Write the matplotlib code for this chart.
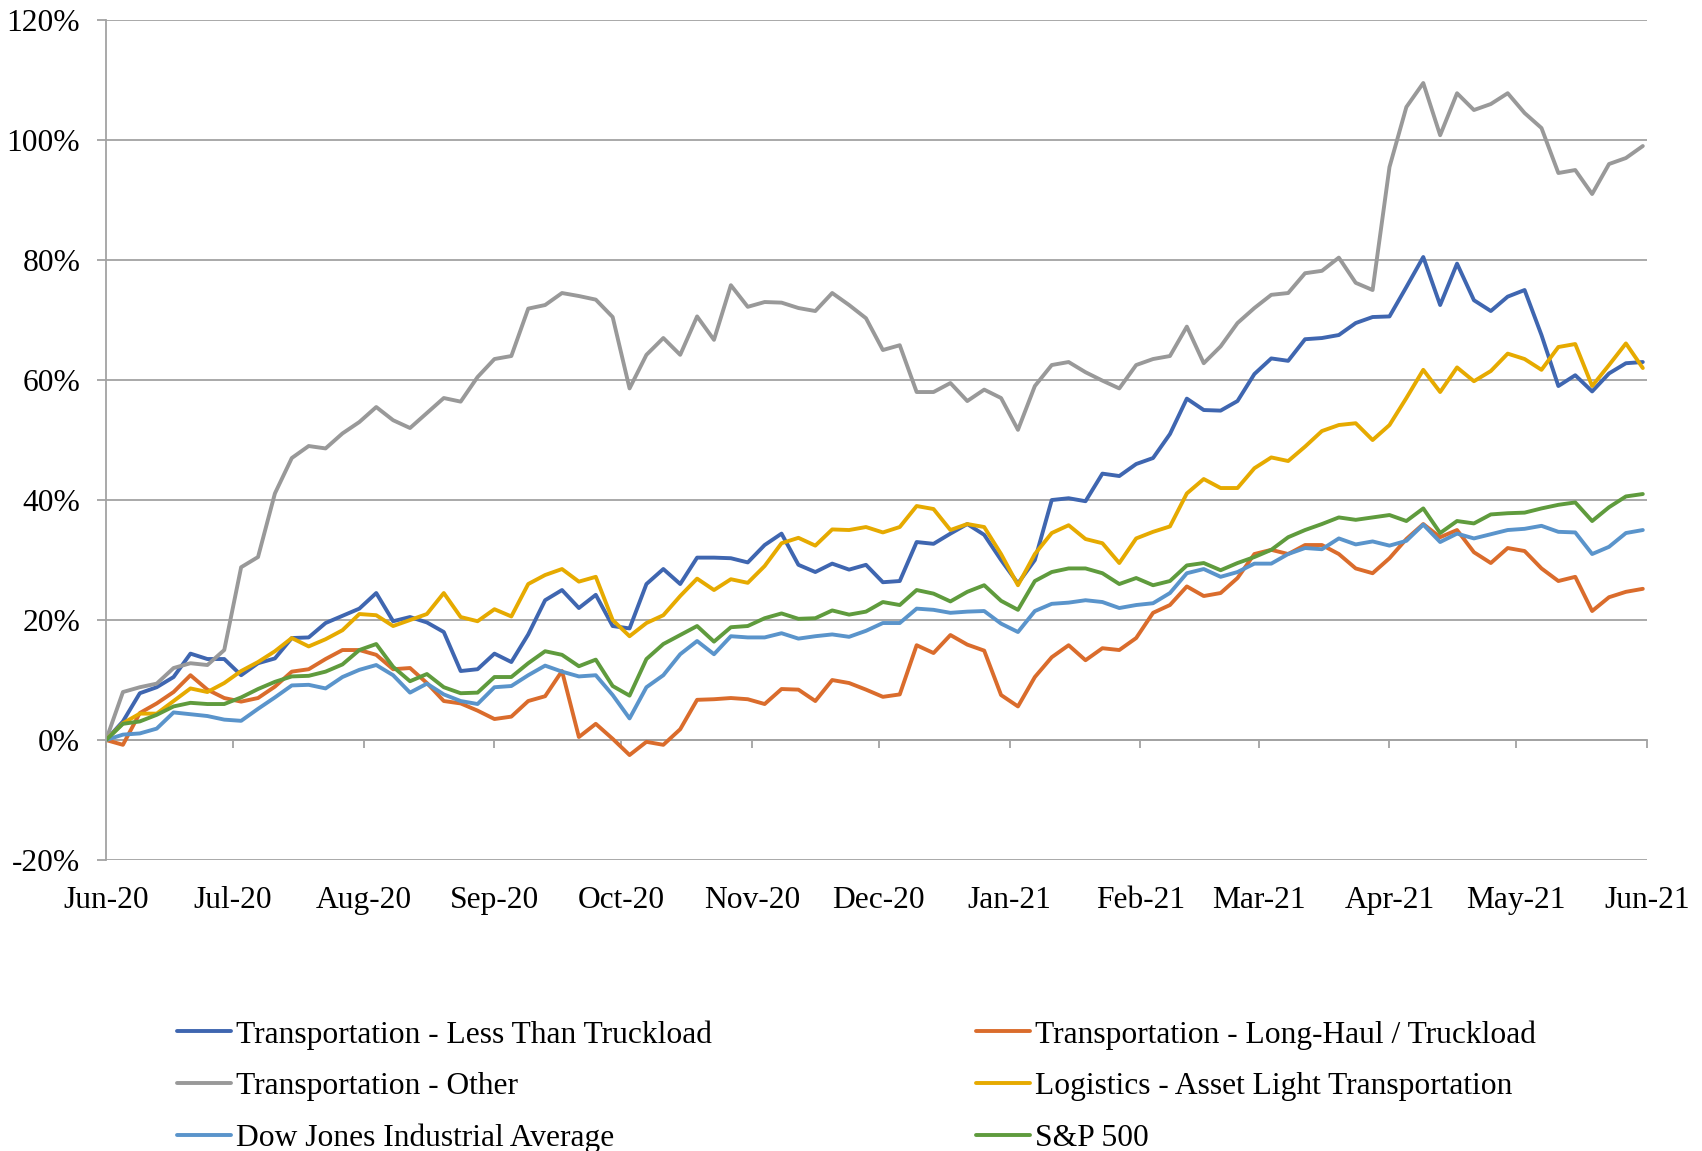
import pandas as pd
import matplotlib
matplotlib.use('Agg')
import matplotlib.pyplot as plt
import matplotlib.dates as mdates
from matplotlib.ticker import FuncFormatter

plt.rcParams['font.family'] = ['Liberation Serif', 'DejaVu Serif']

# sampled every 4 calendar days from 1 Jun 2020, cumulative return in %
dates = pd.date_range('2020-06-01', periods=92, freq='4D')

ltl = [0, 3.1, 7.8, 8.8, 10.5, 14.4, 13.5, 13.5, 10.8, 12.8, 13.6, 17.0, 17.1, 19.5, 20.7, 21.9,
       24.5, 19.8, 20.5, 19.6, 18.0, 11.5, 11.8, 14.4, 13.0, 17.6, 23.3, 25.0, 22.0, 24.2, 19.0, 18.6,
       26.0, 28.5, 26.0, 30.4, 30.4, 30.3, 29.6, 32.5, 34.4, 29.2, 28.0, 29.4, 28.4, 29.2, 26.3, 26.5,
       33.0, 32.7, 34.4, 36.0, 34.2, 30.0, 26.1, 30.0, 40.0, 40.3, 39.8, 44.4, 44.0, 46.0, 47.0, 51.0,
       56.9, 55.0, 54.9, 56.5, 61.0, 63.6, 63.2, 66.8, 67.0, 67.5, 69.5, 70.5, 70.6, 75.5, 80.5, 72.5,
       79.4, 73.3, 71.5, 73.9, 75.0, 67.5, 59.0, 60.8, 58.1, 61.1, 62.8, 63.0]

long_haul = [0, -0.8, 4.5, 6.1, 8.0, 10.8, 8.4, 7.0, 6.4, 7.0, 8.9, 11.4, 11.8, 13.5, 15.0, 15.0,
             14.2, 11.8, 12.0, 9.5, 6.5, 6.1, 4.9, 3.5, 3.9, 6.5, 7.3, 11.5, 0.5, 2.7, 0.2, -2.5,
             -0.3, -0.8, 1.8, 6.7, 6.8, 7.0, 6.8, 6.0, 8.5, 8.4, 6.5, 10.0, 9.5, 8.4, 7.2, 7.6,
             15.8, 14.5, 17.5, 15.9, 14.9, 7.5, 5.6, 10.5, 13.8, 15.8, 13.3, 15.3, 15.0, 17.0, 21.2, 22.5,
             25.6, 24.0, 24.5, 27.0, 31.0, 31.7, 31.0, 32.5, 32.5, 31.0, 28.6, 27.8, 30.3, 33.5, 36.0, 33.8,
             35.0, 31.3, 29.5, 32.0, 31.5, 28.6, 26.5, 27.2, 21.5, 23.8, 24.7, 25.2]

other = [0, 8.0, 8.8, 9.4, 12.0, 12.8, 12.5, 15.0, 28.8, 30.5, 41.1, 47.0, 49.0, 48.6, 51.1, 53.0,
         55.5, 53.3, 52.0, 54.5, 57.0, 56.4, 60.5, 63.5, 64.0, 71.9, 72.5, 74.5, 74.0, 73.4, 70.5, 58.6,
         64.2, 67.0, 64.2, 70.6, 66.7, 75.8, 72.2, 73.0, 72.9, 72.0, 71.5, 74.5, 72.5, 70.3, 65.0, 65.8,
         58.0, 58.0, 59.5, 56.5, 58.4, 57.0, 51.7, 59.0, 62.5, 63.0, 61.3, 59.9, 58.6, 62.5, 63.5, 64.0,
         68.9, 62.8, 65.6, 69.5, 72.0, 74.2, 74.5, 77.8, 78.2, 80.4, 76.2, 75.0, 95.5, 105.5, 109.5, 100.8,
         107.8, 105.0, 106.0, 107.8, 104.5, 102.0, 94.5, 95.0, 91.0, 96.0, 97.0, 99.0]

logistics = [0, 2.8, 4.4, 4.4, 6.5, 8.6, 8.0, 9.5, 11.5, 13.0, 14.8, 17.0, 15.6, 16.8, 18.3, 21.0,
             20.8, 19.0, 20.0, 21.0, 24.5, 20.5, 19.8, 21.8, 20.6, 26.0, 27.5, 28.5, 26.4, 27.2, 20.0, 17.3,
             19.5, 20.8, 24.0, 26.9, 25.0, 26.8, 26.2, 29.0, 32.8, 33.7, 32.4, 35.1, 35.0, 35.5, 34.6, 35.5,
             39.0, 38.5, 35.0, 36.0, 35.5, 31.0, 25.8, 31.0, 34.5, 35.8, 33.5, 32.8, 29.5, 33.6, 34.7, 35.6,
             41.1, 43.5, 42.0, 42.0, 45.3, 47.1, 46.5, 48.9, 51.5, 52.5, 52.8, 50.0, 52.5, 57.0, 61.7, 58.0,
             62.1, 59.8, 61.5, 64.4, 63.5, 61.7, 65.5, 66.0, 59.0, 62.5, 66.1, 62.0]

dow = [0, 0.9, 1.1, 1.9, 4.6, 4.3, 4.0, 3.4, 3.2, 5.2, 7.1, 9.1, 9.2, 8.6, 10.5, 11.7,
       12.5, 10.8, 7.9, 9.4, 7.6, 6.5, 6.0, 8.8, 9.0, 10.8, 12.4, 11.4, 10.6, 10.8, 7.5, 3.6,
       8.8, 10.8, 14.3, 16.5, 14.3, 17.3, 17.1, 17.1, 17.8, 16.9, 17.3, 17.6, 17.2, 18.2, 19.5, 19.5,
       21.9, 21.7, 21.2, 21.4, 21.5, 19.4, 18.0, 21.5, 22.7, 22.9, 23.3, 23.0, 22.0, 22.5, 22.8, 24.5,
       27.8, 28.5, 27.2, 28.0, 29.4, 29.4, 31.0, 32.0, 31.8, 33.6, 32.6, 33.1, 32.4, 33.2, 35.9, 33.0,
       34.4, 33.6, 34.3, 35.0, 35.2, 35.7, 34.7, 34.6, 31.0, 32.2, 34.5, 35.0]

sp500 = [0, 2.7, 3.1, 4.2, 5.6, 6.2, 6.0, 6.0, 7.1, 8.5, 9.7, 10.6, 10.7, 11.4, 12.6, 15.0,
         16.0, 12.2, 9.8, 11.0, 8.8, 7.8, 7.9, 10.5, 10.5, 12.8, 14.8, 14.2, 12.3, 13.4, 9.0, 7.4,
         13.5, 16.0, 17.5, 19.0, 16.4, 18.8, 19.0, 20.3, 21.1, 20.2, 20.3, 21.6, 20.9, 21.4, 23.0, 22.5,
         25.0, 24.4, 23.1, 24.7, 25.8, 23.2, 21.7, 26.5, 28.0, 28.6, 28.6, 27.8, 26.0, 27.0, 25.8, 26.5,
         29.1, 29.5, 28.3, 29.5, 30.5, 31.7, 33.8, 35.0, 36.0, 37.1, 36.7, 37.1, 37.5, 36.5, 38.6, 34.5,
         36.5, 36.1, 37.6, 37.8, 37.9, 38.6, 39.2, 39.6, 36.5, 38.8, 40.6, 41.0]

series = [
    ('Transportation - Less Than Truckload', ltl, '#3F66B0'),
    ('Transportation - Long-Haul / Truckload', long_haul, '#DA6C2C'),
    ('Transportation - Other', other, '#999999'),
    ('Logistics - Asset Light Transportation', logistics, '#E6AA00'),
    ('Dow Jones Industrial Average', dow, '#5A94CB'),
    ('S&P 500', sp500, '#5F9B3D'),
]

grid_c = '#a3a3a3'

fig = plt.figure(figsize=(17.02, 11.51), dpi=100, facecolor='white')
ax = fig.add_axes([0.0623, 0.2528, 0.9054, 0.7298])

lines = {}
for name, vals, col in series:
    ln, = ax.plot(dates, vals, color=col, lw=2.8, label=name,
                  solid_joinstyle='round', solid_capstyle='round')
    lines[name] = ln

ax.set_ylim(-20, 120)
ax.set_yticks(range(-20, 121, 20))
ax.yaxis.set_major_formatter(FuncFormatter(lambda v, p: f'{v:.0f}%'))
ax.set_xlim(pd.Timestamp('2020-06-01'), pd.Timestamp('2021-06-01'))
ax.xaxis.set_major_locator(mdates.MonthLocator())
ax.xaxis.set_major_formatter(mdates.DateFormatter('%b-%y'))

ax.grid(axis='y', color=grid_c, lw=1.3)
ax.set_axisbelow(True)
for s in ['top', 'right', 'bottom']:
    ax.spines[s].set_visible(False)
ax.spines['left'].set_color(grid_c)
ax.spines['left'].set_linewidth(1.3)

ax.tick_params(axis='x', length=0, pad=19, labelsize=22.7)
ax.tick_params(axis='y', length=6.5, width=1.3, color=grid_c, pad=12, labelsize=22.7)

# x axis line crossing at 0% with month tick marks
sec = ax.secondary_xaxis(20 / 140)
sec.xaxis.set_major_locator(mdates.MonthLocator())
sec.tick_params(axis='x', length=6, width=1.3, color=grid_c, labelbottom=False)
sec.spines['bottom'].set_color(grid_c)
sec.spines['bottom'].set_linewidth(1.3)

order = ['Transportation - Less Than Truckload', 'Transportation - Other', 'Dow Jones Industrial Average',
         'Transportation - Long-Haul / Truckload', 'Logistics - Asset Light Transportation', 'S&P 500']
fig.legend([lines[n] for n in order], order, ncol=2, loc='upper left',
           bbox_to_anchor=(177 / 1702, 1 - 1020 / 1151), frameon=False, fontsize=22.7,
           handlelength=1.7, handletextpad=0.16, columnspacing=8.4, labelspacing=0.72,
           borderpad=0, borderaxespad=0)

fig.savefig('out.png', dpi=100, facecolor='white')
